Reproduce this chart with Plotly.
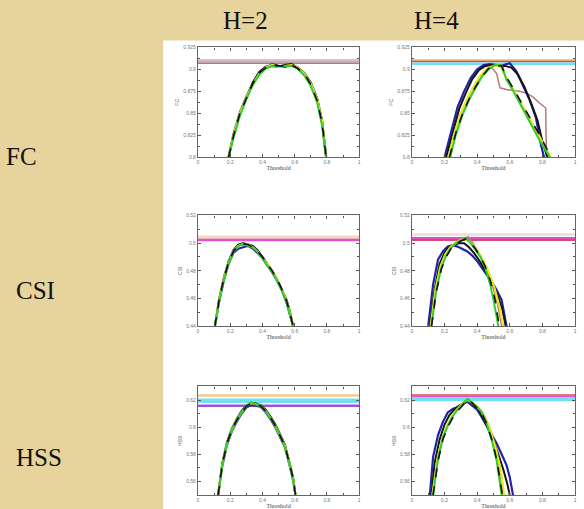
import plotly.graph_objects as go
from plotly.subplots import make_subplots

# ---------------- data ----------------
col_titles = ["H=2", "H=4"]
row_titles = ["FC", "CSI", "HSS"]
x_ticks = [0, 0.2, 0.4, 0.6, 0.8, 1]
x_ticklabels = ["0", "0.2", "0.4", "0.6", "0.8", "1"]

# FC, H=2 (shared thresholds)
fc2_x = [0.19, 0.22, 0.26, 0.30, 0.34, 0.38, 0.42, 0.46, 0.50, 0.54, 0.58, 0.62, 0.66, 0.70, 0.74, 0.77, 0.795]
fc2_brown = [0.800, 0.825, 0.850, 0.868, 0.883, 0.895, 0.901, 0.904, 0.904, 0.905, 0.906, 0.902, 0.894, 0.882, 0.864, 0.838, 0.800]
fc2_blue = [0.800, 0.826, 0.851, 0.869, 0.884, 0.896, 0.902, 0.906, 0.904, 0.903, 0.905, 0.901, 0.894, 0.883, 0.865, 0.840, 0.800]
fc2_black = [0.800, 0.824, 0.849, 0.867, 0.885, 0.897, 0.903, 0.904, 0.903, 0.905, 0.906, 0.902, 0.896, 0.885, 0.867, 0.842, 0.800]
fc2_yellow = [0.800, 0.825, 0.850, 0.868, 0.883, 0.895, 0.902, 0.905, 0.903, 0.904, 0.905, 0.902, 0.895, 0.884, 0.866, 0.841, 0.800]
fc2_green = [0.800, 0.822, 0.847, 0.866, 0.882, 0.894, 0.901, 0.904, 0.904, 0.904, 0.904, 0.901, 0.893, 0.881, 0.862, 0.836, 0.800]
fc2_dash = [0.800, 0.824, 0.850, 0.867, 0.884, 0.896, 0.902, 0.905, 0.904, 0.904, 0.905, 0.901, 0.895, 0.883, 0.864, 0.839, 0.800]
fc2_ref = [0.9104, 0.9087, 0.9068]

# FC, H=4
fc4_x_brown = [0.225, 0.26, 0.30, 0.34, 0.38, 0.42, 0.46, 0.49, 0.52, 0.54, 0.58, 0.62, 0.66, 0.70, 0.74, 0.78, 0.82, 0.825]
fc4_brown = [0.800, 0.826, 0.848, 0.865, 0.880, 0.892, 0.900, 0.902, 0.895, 0.879, 0.877, 0.876, 0.875, 0.873, 0.869, 0.862, 0.856, 0.800]
fc4_x_blue = [0.20, 0.24, 0.28, 0.32, 0.36, 0.40, 0.44, 0.48, 0.52, 0.56, 0.60, 0.64, 0.68, 0.72, 0.76, 0.79, 0.81]
fc4_blue = [0.800, 0.830, 0.857, 0.875, 0.890, 0.900, 0.905, 0.906, 0.905, 0.905, 0.907, 0.898, 0.882, 0.866, 0.845, 0.815, 0.800]
fc4_x_black = [0.21, 0.25, 0.29, 0.33, 0.37, 0.41, 0.45, 0.49, 0.53, 0.57, 0.61, 0.65, 0.69, 0.73, 0.77, 0.80, 0.83]
fc4_black = [0.800, 0.829, 0.855, 0.873, 0.889, 0.899, 0.904, 0.905, 0.904, 0.904, 0.902, 0.894, 0.880, 0.862, 0.842, 0.818, 0.800]
fc4_x_yellow = [0.225, 0.26, 0.30, 0.34, 0.38, 0.42, 0.46, 0.50, 0.54, 0.58, 0.62, 0.66, 0.70, 0.74, 0.78, 0.82, 0.85]
fc4_yellow = [0.800, 0.827, 0.850, 0.867, 0.881, 0.893, 0.901, 0.904, 0.904, 0.890, 0.878, 0.865, 0.851, 0.838, 0.824, 0.811, 0.800]
fc4_x_green = [0.235, 0.27, 0.31, 0.35, 0.39, 0.43, 0.47, 0.51, 0.55, 0.58, 0.62, 0.66, 0.70, 0.74, 0.78, 0.82, 0.845]
fc4_green = [0.800, 0.826, 0.848, 0.865, 0.879, 0.892, 0.900, 0.905, 0.905, 0.888, 0.876, 0.862, 0.848, 0.834, 0.820, 0.808, 0.800]
fc4_x_dash = [0.23, 0.27, 0.31, 0.35, 0.39, 0.43, 0.47, 0.51, 0.55, 0.58, 0.62, 0.66, 0.70, 0.74, 0.78, 0.82, 0.855]
fc4_dash = [0.800, 0.828, 0.849, 0.866, 0.880, 0.892, 0.901, 0.904, 0.904, 0.891, 0.879, 0.866, 0.853, 0.840, 0.826, 0.812, 0.800]
fc4_ref = [0.9104, 0.9090, 0.9064]

# CSI, H=2
csi2_x = [0.105, 0.13, 0.16, 0.19, 0.22, 0.25, 0.28, 0.31, 0.34, 0.37, 0.40, 0.43, 0.46, 0.49, 0.52, 0.55, 0.57, 0.59]
csi2_brown = [0.440, 0.458, 0.474, 0.486, 0.494, 0.4985, 0.4995, 0.4985, 0.4965, 0.4935, 0.489, 0.484, 0.479, 0.473, 0.466, 0.457, 0.449, 0.440]
csi2_blue = [0.440, 0.457, 0.473, 0.485, 0.493, 0.496, 0.497, 0.498, 0.496, 0.493, 0.489, 0.484, 0.479, 0.473, 0.466, 0.457, 0.449, 0.440]
csi2_black = [0.440, 0.459, 0.475, 0.487, 0.495, 0.499, 0.500, 0.499, 0.498, 0.495, 0.490, 0.485, 0.480, 0.474, 0.467, 0.459, 0.451, 0.440]
csi2_yellow = [0.440, 0.458, 0.474, 0.486, 0.494, 0.498, 0.4995, 0.499, 0.497, 0.494, 0.489, 0.485, 0.480, 0.474, 0.467, 0.458, 0.450, 0.440]
csi2_green = [0.440, 0.457, 0.473, 0.486, 0.494, 0.498, 0.499, 0.498, 0.497, 0.494, 0.489, 0.484, 0.479, 0.473, 0.466, 0.457, 0.449, 0.440]
csi2_dash = [0.440, 0.458, 0.474, 0.486, 0.494, 0.498, 0.4995, 0.499, 0.497, 0.494, 0.490, 0.485, 0.480, 0.474, 0.467, 0.458, 0.450, 0.440]
csi2_ref = [0.5047, 0.5028, 0.5022]

# CSI, H=4
csi4_x_brown = [0.115, 0.145, 0.175, 0.205, 0.235, 0.265, 0.295, 0.325, 0.345, 0.375, 0.405, 0.435, 0.465, 0.495, 0.525, 0.55]
csi4_brown = [0.440, 0.466, 0.483, 0.492, 0.497, 0.500, 0.502, 0.504, 0.5045, 0.500, 0.494, 0.487, 0.479, 0.469, 0.456, 0.440]
csi4_x_blue = [0.10, 0.13, 0.16, 0.19, 0.22, 0.25, 0.28, 0.31, 0.34, 0.37, 0.40, 0.43, 0.46, 0.49, 0.52, 0.55, 0.58]
csi4_blue = [0.440, 0.470, 0.488, 0.494, 0.4975, 0.4985, 0.4975, 0.496, 0.494, 0.491, 0.487, 0.482, 0.477, 0.472, 0.466, 0.459, 0.440]
csi4_x_black = [0.11, 0.14, 0.17, 0.20, 0.23, 0.26, 0.29, 0.32, 0.35, 0.38, 0.41, 0.44, 0.47, 0.50, 0.53, 0.555, 0.575]
csi4_black = [0.440, 0.467, 0.485, 0.493, 0.4975, 0.499, 0.500, 0.500, 0.497, 0.493, 0.488, 0.482, 0.476, 0.469, 0.461, 0.452, 0.440]
csi4_x_yellow = [0.115, 0.145, 0.175, 0.205, 0.235, 0.265, 0.295, 0.325, 0.355, 0.385, 0.415, 0.445, 0.475, 0.505, 0.535, 0.56]
csi4_yellow = [0.440, 0.467, 0.483, 0.492, 0.497, 0.500, 0.502, 0.503, 0.501, 0.497, 0.492, 0.486, 0.478, 0.468, 0.455, 0.440]
csi4_x_green = [0.12, 0.15, 0.18, 0.21, 0.24, 0.27, 0.30, 0.33, 0.36, 0.39, 0.42, 0.45, 0.48, 0.50, 0.53]
csi4_green = [0.440, 0.466, 0.482, 0.491, 0.4965, 0.500, 0.502, 0.5035, 0.500, 0.495, 0.490, 0.482, 0.470, 0.459, 0.440]
csi4_x_dash = [0.12, 0.15, 0.18, 0.21, 0.24, 0.27, 0.30, 0.33, 0.36, 0.39, 0.42, 0.45, 0.48, 0.51, 0.535]
csi4_dash = [0.440, 0.465, 0.481, 0.490, 0.496, 0.4995, 0.5015, 0.503, 0.500, 0.496, 0.490, 0.483, 0.473, 0.459, 0.440]
csi4_ref = [0.5062, 0.5030, 0.5024]

# HSS, H=2
hss2_x = [0.125, 0.15, 0.18, 0.21, 0.24, 0.27, 0.30, 0.33, 0.36, 0.39, 0.42, 0.45, 0.48, 0.51, 0.54, 0.57, 0.59, 0.605]
hss2_brown = [0.5498, 0.572, 0.588, 0.598, 0.605, 0.611, 0.6150, 0.6175, 0.6168, 0.6155, 0.612, 0.607, 0.601, 0.594, 0.586, 0.572, 0.562, 0.5498]
hss2_blue = [0.5498, 0.571, 0.587, 0.597, 0.604, 0.610, 0.6145, 0.6165, 0.6160, 0.6150, 0.611, 0.606, 0.600, 0.593, 0.585, 0.571, 0.561, 0.5498]
hss2_black = [0.5498, 0.573, 0.589, 0.599, 0.606, 0.612, 0.6160, 0.6180, 0.6175, 0.6162, 0.613, 0.608, 0.602, 0.595, 0.587, 0.573, 0.563, 0.5498]
hss2_yellow = [0.5498, 0.572, 0.588, 0.598, 0.605, 0.611, 0.6155, 0.6178, 0.6170, 0.6158, 0.612, 0.607, 0.601, 0.594, 0.586, 0.572, 0.562, 0.5498]
hss2_green = [0.5498, 0.571, 0.588, 0.598, 0.605, 0.611, 0.6158, 0.6185, 0.6170, 0.6155, 0.612, 0.607, 0.601, 0.594, 0.585, 0.572, 0.561, 0.5498]
hss2_dash = [0.5498, 0.572, 0.588, 0.598, 0.605, 0.611, 0.6155, 0.6176, 0.6168, 0.6157, 0.612, 0.607, 0.601, 0.594, 0.586, 0.572, 0.562, 0.5498]
hss2_ref = [0.6235, 0.6197, 0.6160]

# HSS, H=4
hss4_x_brown = [0.125, 0.155, 0.185, 0.215, 0.245, 0.275, 0.305, 0.335, 0.365, 0.395, 0.425, 0.455, 0.485, 0.515, 0.54, 0.555]
hss4_brown = [0.5498, 0.575, 0.591, 0.601, 0.608, 0.613, 0.617, 0.620, 0.619, 0.616, 0.612, 0.606, 0.597, 0.585, 0.568, 0.5498]
hss4_x_blue = [0.11, 0.13, 0.16, 0.19, 0.22, 0.25, 0.28, 0.31, 0.34, 0.37, 0.40, 0.43, 0.46, 0.49, 0.52, 0.55, 0.58, 0.60, 0.62]
hss4_blue = [0.5498, 0.578, 0.594, 0.604, 0.611, 0.6135, 0.615, 0.617, 0.619, 0.616, 0.613, 0.607, 0.601, 0.595, 0.588, 0.580, 0.572, 0.563, 0.5498]
hss4_x_black = [0.12, 0.14, 0.17, 0.20, 0.23, 0.26, 0.29, 0.32, 0.35, 0.38, 0.41, 0.44, 0.47, 0.50, 0.53, 0.56, 0.585, 0.60]
hss4_black = [0.5498, 0.574, 0.591, 0.602, 0.609, 0.613, 0.616, 0.618, 0.620, 0.617, 0.613, 0.606, 0.598, 0.590, 0.580, 0.569, 0.558, 0.5498]
hss4_x_yellow = [0.125, 0.155, 0.185, 0.215, 0.245, 0.275, 0.305, 0.335, 0.365, 0.395, 0.425, 0.455, 0.485, 0.515, 0.545, 0.565]
hss4_yellow = [0.5498, 0.575, 0.591, 0.601, 0.608, 0.613, 0.617, 0.620, 0.619, 0.616, 0.612, 0.605, 0.596, 0.584, 0.568, 0.5498]
hss4_x_green = [0.13, 0.16, 0.19, 0.22, 0.25, 0.28, 0.31, 0.34, 0.37, 0.40, 0.43, 0.46, 0.49, 0.52, 0.55]
hss4_green = [0.5498, 0.576, 0.592, 0.601, 0.608, 0.613, 0.617, 0.621, 0.618, 0.615, 0.611, 0.602, 0.590, 0.575, 0.5498]
hss4_x_dash = [0.13, 0.16, 0.19, 0.22, 0.25, 0.28, 0.31, 0.34, 0.37, 0.40, 0.43, 0.46, 0.49, 0.52, 0.555]
hss4_dash = [0.5498, 0.575, 0.591, 0.600, 0.607, 0.612, 0.616, 0.6205, 0.618, 0.614, 0.610, 0.602, 0.591, 0.576, 0.5498]
hss4_ref = [0.6238, 0.6226, 0.6205]

# ---------------- styles ----------------
BG = "#E7D39C"
series_style = {
    "brown": dict(color="#b87878", width=1.5, dash="solid"),
    "blue": dict(color="#2424a8", width=2.2, dash="solid"),
    "black": dict(color="#151515", width=2, dash="solid"),
    "yellow": dict(color="#e8e61e", width=2.2, dash="solid"),
    "green": dict(color="#30cc30", width=2, dash="solid"),
    "dash": dict(color="#101010", width=1.6, dash="dash"),
}
ref_styles = {
    "fc2": [("#f4c890", 2.5), ("#b8b8b8", 2.5), ("#e050e0", 1.2)],
    "fc4": [("#f4c890", 2.5), ("#d04848", 1.5), ("#70e0f0", 2.5)],
    "csi2": [("#f6d8b0", 2.5), ("#d04848", 1.2), ("#e050d0", 2.5)],
    "csi4": [("#f0d8e0", 2.5), ("#e050c0", 4), ("#d04848", 1.2)],
    "hss2": [("#f4c890", 2.5), ("#70e0f0", 4.5), ("#a050e0", 2.5)],
    "hss4": [("#d04848", 1.5), ("#e050d0", 1.5), ("#70e0f0", 3.5)],
}

panels = [
    ("fc2", 1, 1, [("brown", fc2_x, fc2_brown), ("blue", fc2_x, fc2_blue), ("black", fc2_x, fc2_black),
                   ("yellow", fc2_x, fc2_yellow), ("green", fc2_x, fc2_green), ("dash", fc2_x, fc2_dash)], fc2_ref),
    ("fc4", 1, 2, [("brown", fc4_x_brown, fc4_brown), ("blue", fc4_x_blue, fc4_blue), ("black", fc4_x_black, fc4_black),
                   ("yellow", fc4_x_yellow, fc4_yellow), ("green", fc4_x_green, fc4_green), ("dash", fc4_x_dash, fc4_dash)], fc4_ref),
    ("csi2", 2, 1, [("brown", csi2_x, csi2_brown), ("blue", csi2_x, csi2_blue), ("black", csi2_x, csi2_black),
                    ("yellow", csi2_x, csi2_yellow), ("green", csi2_x, csi2_green), ("dash", csi2_x, csi2_dash)], csi2_ref),
    ("csi4", 2, 2, [("brown", csi4_x_brown, csi4_brown), ("blue", csi4_x_blue, csi4_blue), ("black", csi4_x_black, csi4_black),
                    ("yellow", csi4_x_yellow, csi4_yellow), ("green", csi4_x_green, csi4_green), ("dash", csi4_x_dash, csi4_dash)], csi4_ref),
    ("hss2", 3, 1, [("brown", hss2_x, hss2_brown), ("blue", hss2_x, hss2_blue), ("black", hss2_x, hss2_black),
                    ("yellow", hss2_x, hss2_yellow), ("green", hss2_x, hss2_green), ("dash", hss2_x, hss2_dash)], hss2_ref),
    ("hss4", 3, 2, [("brown", hss4_x_brown, hss4_brown), ("blue", hss4_x_blue, hss4_blue), ("black", hss4_x_black, hss4_black),
                    ("yellow", hss4_x_yellow, hss4_yellow), ("green", hss4_x_green, hss4_green), ("dash", hss4_x_dash, hss4_dash)], hss4_ref),
]

yaxes_cfg = {
    1: dict(range=[0.8, 0.925], tick0=0.8, dtick=0.025, minor=0.0125, title="FC"),
    2: dict(range=[0.44, 0.52], tick0=0.44, dtick=0.02, minor=0.01, title="CSI"),
    3: dict(range=[0.5498, 0.6302], tick0=0.56, dtick=0.02, minor=0.01, title="HSS"),
}

W, H = 584, 509
col_dom = {1: (198 / W, 360 / W), 2: (413 / W, 577 / W)}
row_dom = {1: (1 - 156 / H, 1 - 45 / H), 2: (1 - 327 / H, 1 - 215 / H), 3: (1 - 498 / H, 1 - 388 / H)}

fig = make_subplots(rows=3, cols=2, horizontal_spacing=0.05, vertical_spacing=0.05)

for key, r, c, series, refs in panels:
    for (col, lw), yv in zip(ref_styles[key], refs):
        fig.add_trace(go.Scatter(x=[0, 1], y=[yv, yv], mode="lines",
                                 line=dict(color=col, width=lw), showlegend=False,
                                 hoverinfo="skip"), row=r, col=c)
    for name, xs, ys in series:
        st = series_style[name]
        fig.add_trace(go.Scatter(x=xs, y=ys, mode="lines",
                                 line=dict(color=st["color"], width=st["width"], dash=st["dash"]),
                                 showlegend=False, name=name), row=r, col=c)

tick_font = dict(family="Liberation Sans", size=5, color="#777777")
for r in (1, 2, 3):
    for c in (1, 2):
        cfg = yaxes_cfg[r]
        fig.update_xaxes(row=r, col=c, domain=col_dom[c], range=[0, 1],
                         tickmode="array", tickvals=x_ticks, ticktext=x_ticklabels,
                         ticks="inside", ticklen=3, tickcolor="#555555",
                         minor=dict(ticks="inside", ticklen=2, dtick=0.1, tick0=0, tickcolor="#555555"),
                         showline=True, linecolor="#666666", linewidth=1.2, mirror="allticks",
                         showgrid=False, zeroline=False, tickfont=tick_font,
                         title=dict(text="Threshold", font=dict(family="Liberation Serif", size=6, color="#444444"), standoff=1))
        fig.update_yaxes(row=r, col=c, domain=row_dom[r], range=cfg["range"],
                         tick0=cfg["tick0"], dtick=cfg["dtick"],
                         ticks="inside", ticklen=3, tickcolor="#555555",
                         minor=dict(ticks="inside", ticklen=2, dtick=cfg["minor"], tick0=cfg["tick0"], tickcolor="#555555"),
                         showline=True, linecolor="#666666", linewidth=1.2, mirror="allticks",
                         showgrid=False, zeroline=False, tickfont=tick_font,
                         title=dict(text=cfg["title"], font=dict(family="Liberation Sans", size=5, color="#555555"), standoff=3))

# white panel behind the plots
fig.add_shape(type="rect", xref="paper", yref="paper", x0=163 / W, x1=1.05, y0=-0.05, y1=1 - 38 / H,
              fillcolor="white", line=dict(width=0), layer="below")

big = dict(family="Liberation Serif", size=25, color="#111111")
for txt, xc in zip(col_titles, (246, 438)):
    fig.add_annotation(text=txt, x=xc / W, y=1 - 18 / H, xref="paper", yref="paper",
                       showarrow=False, font=big, xanchor="center", yanchor="middle")
for txt, xl, yc in zip(row_titles, (3, 13, 13), (155, 291, 460)):
    fig.add_annotation(text=txt, x=xl / W, y=1 - yc / H, xref="paper", yref="paper",
                       showarrow=False, font=big, xanchor="left", yanchor="middle")

fig.update_layout(width=W, height=H, margin=dict(l=0, r=0, t=0, b=0),
                  paper_bgcolor=BG, plot_bgcolor="white", showlegend=False)

fig.write_html("out.html", config={"displayModeBar": False},
               post_script="document.body.style.margin='0';document.body.style.overflow='hidden';")
